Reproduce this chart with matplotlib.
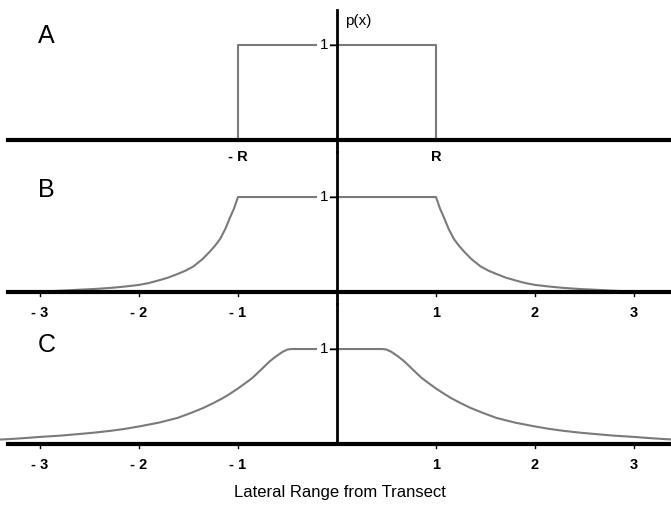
import matplotlib
matplotlib.use("Agg")
import matplotlib.pyplot as plt

# panel A: uniform detection out to R
x_a = [-1.0, -1.0, 1.0, 1.0]
p_a = [0.0, 1.0, 1.0, 0.0]

# panel B: flat to 1, then fast drop (right half)
x_b = [0.0, 1.0, 1.04, 1.08, 1.13, 1.18, 1.23, 1.28, 1.36, 1.45, 1.53, 1.61,
       1.71, 1.81, 1.9, 2.0, 2.14, 2.28, 2.45, 2.61, 2.75, 2.88, 3.0]
p_b = [1.0, 1.0, 0.88, 0.785, 0.66, 0.56, 0.49, 0.43, 0.345, 0.27, 0.225, 0.19,
       0.15, 0.12, 0.095, 0.075, 0.058, 0.044, 0.032, 0.024, 0.016, 0.01, 0.005]

# panel C: short plateau, long tail
x_c = [0.0, 0.46, 0.5, 0.55, 0.62, 0.68, 0.76, 0.85, 0.92, 1.0, 1.08, 1.15, 1.25,
       1.35, 1.48, 1.61, 1.8, 2.0, 2.14, 2.28, 2.45, 2.61, 2.8, 3.0, 3.15, 3.31, 3.45]
p_c = [1.0, 1.0, 0.995, 0.97, 0.92, 0.87, 0.79, 0.70, 0.645, 0.585, 0.53, 0.485,
       0.43, 0.38, 0.325, 0.275, 0.225, 0.185, 0.16, 0.14, 0.12, 0.105, 0.088,
       0.075, 0.063, 0.052, 0.045]

tick_vals = [-3, -2, -1, 1, 2, 3]
tick_text = ["- 3", "- 2", "- 1", "1", "2", "3"]

plt.rcParams["font.family"] = ["Liberation Sans", "DejaVu Sans"]

W, H = 671, 505
fig = plt.figure(figsize=(W / 100, H / 100), dpi=100)
fig.patch.set_facecolor("white")

XMIN, XMAX = -3.404, 3.374
YMIN, YMAX = -0.126, 1.474
grey = "#7a7a7a"


def make_axes(top, bottom):
    ax = fig.add_axes([0, 1 - bottom / H, 1, (bottom - top) / H])
    ax.set_xlim(XMIN, XMAX)
    ax.set_ylim(YMIN, YMAX)
    ax.axis("off")
    ax.patch.set_alpha(0)
    ax.axhline(0, xmin=8 / W, xmax=1, color="black", lw=3, zorder=3)
    return ax


def mirror(xs, ps):
    xl = [-v for v in xs[::-1]]
    return xl + xs, ps[::-1] + ps


def one_label(ax):
    ax.text(-0.09, 1.0, "1", ha="right", va="center", fontsize=11,
            bbox=dict(facecolor="white", edgecolor="none", pad=1.5), zorder=4)
    ax.plot([-0.07, 0], [1, 1], color="black", lw=1, zorder=4)


def ticks(ax):
    for v, t in zip(tick_vals, tick_text):
        ax.plot([v, v], [0, -0.04], color="black", lw=1, clip_on=False)
        ax.text(v, -0.22, t, ha="center", va="center", fontsize=10.5,
                fontweight="bold", clip_on=False)


# A
ax1 = make_axes(0, 152)
ax1.plot(x_a, p_a, color=grey, lw=1.5, zorder=2)
ax1.plot([0, 0], [YMIN, 1.37], color="black", lw=2, zorder=3, clip_on=False)
one_label(ax1)
ax1.text(-3.02, 1.1, "A", ha="left", va="center", fontsize=18)
ax1.text(0.08, 1.25, "p(x)", ha="left", va="center", fontsize=11)
ax1.text(-1, -0.18, "- R", ha="center", va="center", fontsize=10.5, fontweight="bold")
ax1.text(1, -0.18, "R", ha="center", va="center", fontsize=10.5, fontweight="bold")

# B
ax2 = make_axes(152, 304)
xb, pb = mirror(x_b, p_b)
ax2.plot(xb, pb, color=grey, lw=1.5, zorder=2)
ax2.plot([0, 0], [YMIN, YMAX], color="black", lw=2, zorder=3, clip_on=False)
one_label(ax2)
ax2.text(-3.02, 1.07, "B", ha="left", va="center", fontsize=18)
ticks(ax2)

# C
ax3 = make_axes(304, 456)
xc, pc = mirror(x_c, p_c)
ax3.plot(xc, pc, color=grey, lw=1.5, zorder=2)
ax3.plot([0, 0], [0, YMAX], color="black", lw=2, zorder=3, clip_on=False)
one_label(ax3)
ax3.text(-3.02, 1.04, "C", ha="left", va="center", fontsize=18)
ticks(ax3)

fig.text(340 / W, 1 - 493 / H, "Lateral Range from Transect", ha="center", va="center",
         fontsize=12)

fig.savefig("out.png", dpi=100)
